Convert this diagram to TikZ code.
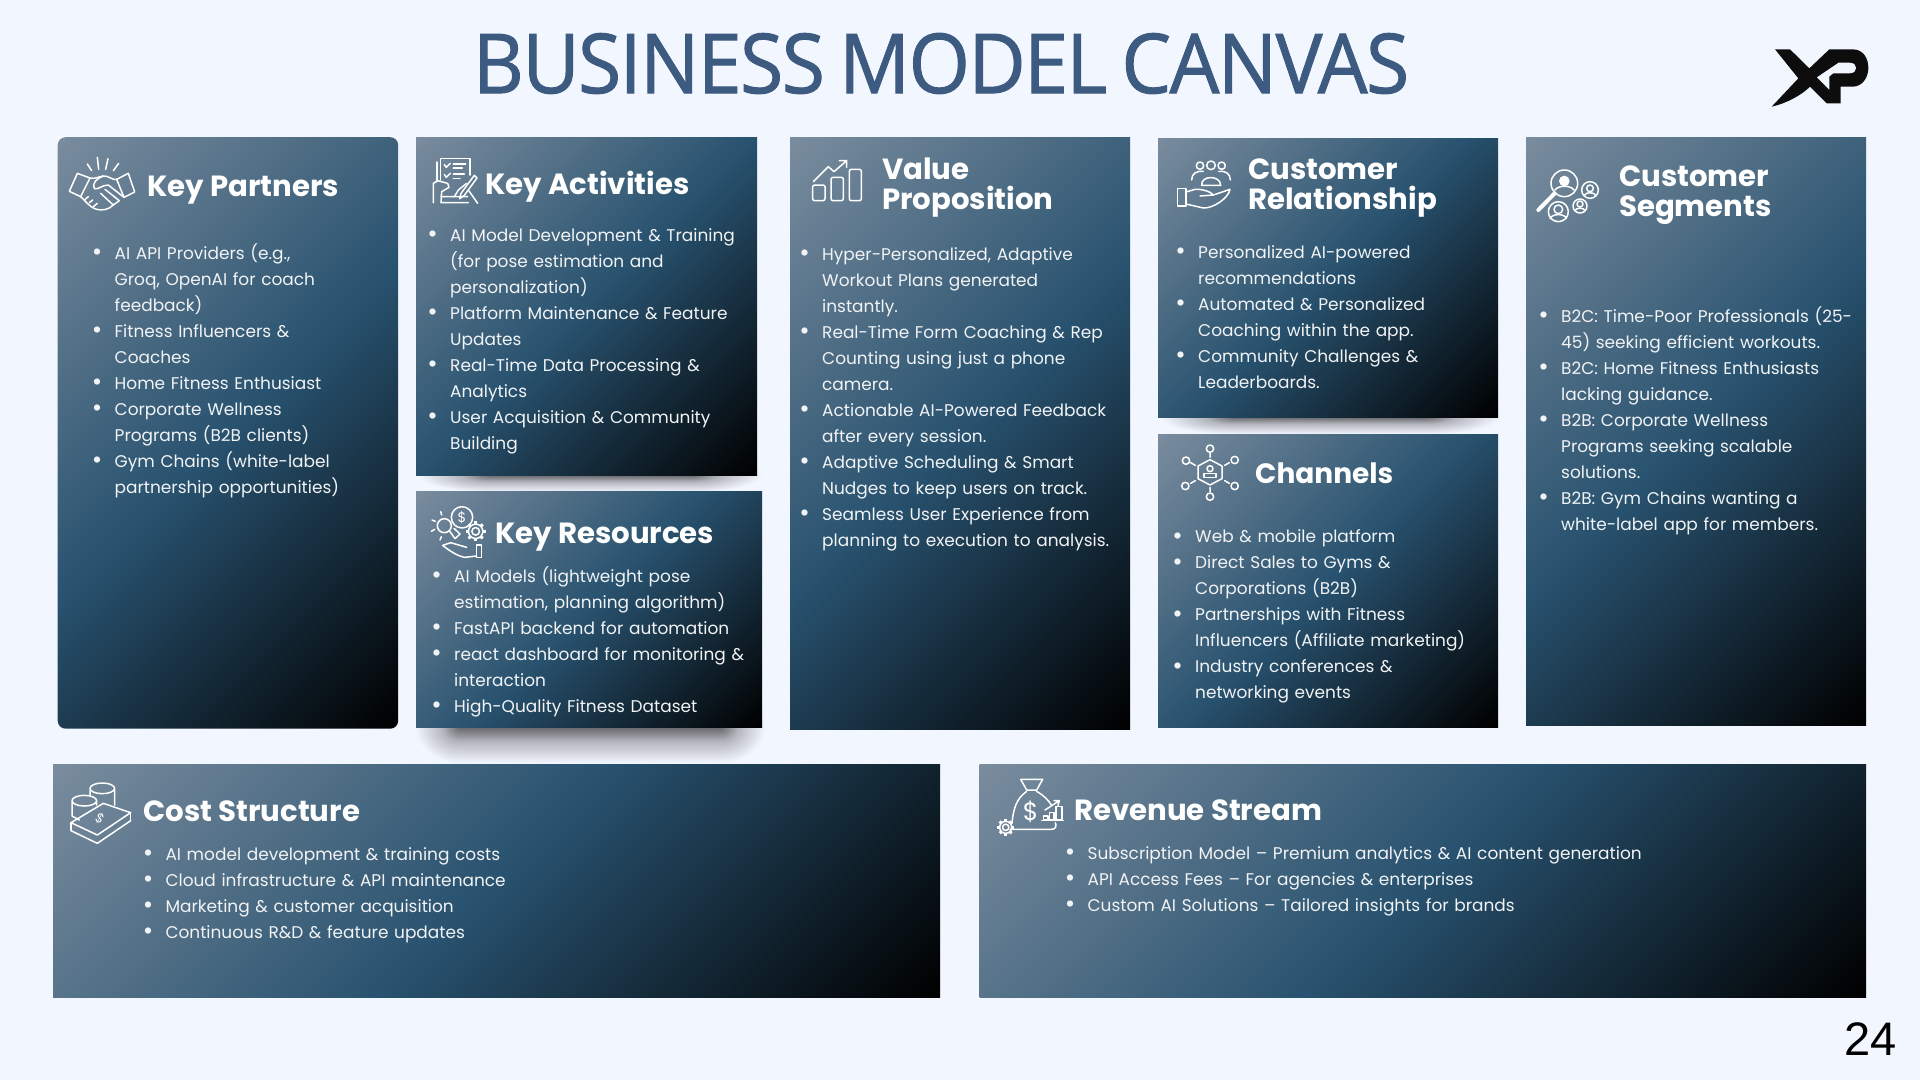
\documentclass[tikz,border=0pt]{standalone}
\usepackage{fontspec}
\usepackage{graphicx}
\setmainfont{Poppins}
\newfontfamily\titlefont[LetterSpace=-2,FakeBold=1.2]{Open Sans}
\newfontfamily\pagefont{Liberation Sans}
\usetikzlibrary{calc}

\definecolor{pagebg}{HTML}{F2F6FF}
\definecolor{titleblue}{HTML}{3D5A80}
\definecolor{cardlight}{HTML}{7A8C9E}
\definecolor{cardmid}{HTML}{28526F}
\definecolor{shadowdark}{HTML}{66666A}
\definecolor{shadowmid}{HTML}{B4B6BE}
\definecolor{bodywhite}{HTML}{F1F3F5}

\pgfdeclareverticalshading{cardshade}{100bp}{color(0bp)=(black); color(14.65bp)=(black); color(50bp)=(cardmid); color(85.35bp)=(cardlight); color(100bp)=(cardlight)}
\pgfdeclareradialshading{shadowcap}{\pgfpoint{0bp}{0bp}}{color(0bp)=(shadowdark); color(10bp)=(shadowmid); color(25bp)=(pagebg); color(50bp)=(pagebg)}
\pgfdeclareverticalshading{shadowband}{100bp}{color(0bp)=(pagebg); color(25bp)=(pagebg); color(55bp)=(shadowmid); color(75bp)=(shadowdark); color(100bp)=(shadowdark)}

\tikzset{
    cardbox/.style={anchor=north west, inner sep=0pt, shading=cardshade, shading angle=45},
    cardhead/.style={anchor=west, inner sep=0pt, white, align=left, font=\fontsize{29.2}{30}\selectfont\bfseries},
    cardbody/.style={anchor=north west, inner sep=0pt, text width=#1, bodywhite, font=\fontsize{16.95}{26}\selectfont},
    cardbody/.default=330pt,
    iconline/.style={white, line width=1.5pt, line join=round, line cap=round},
    iconsign/.style={white, inner sep=0pt},
}

\newenvironment{cardlist}{\begin{list}{\makebox[7pt]{\raisebox{-1.2pt}{\scalebox{1.5}{\textbullet}}}}{\setlength{\leftmargin}{21pt}\setlength{\labelwidth}{7pt}\setlength{\labelsep}{14pt}\setlength{\itemsep}{0pt}\setlength{\parsep}{0pt}\setlength{\topsep}{0pt}\setlength{\partopsep}{0pt}}\raggedright}{\end{list}}
\newcommand{\litem}{\item\strut}
\newcommand{\geardraw}[3]{% centre x, centre y, radius
    \draw[iconline] (#1,#2) circle (#3*0.72);
    \draw[iconline] (#1,#2) circle (#3*0.38);
    \foreach \a in {0,45,...,315}
        \draw[iconline, line width=3pt, line cap=butt] ($(#1,#2)+(\a:#3*0.72)$) -- ($(#1,#2)+(\a:#3)$);
}
\newcommand{\shadowdraw}[5]{% left, right, y, depth, cap width
    \shade[shading=shadowcap] (#1-#5,#3-#4) rectangle (#1+#5,#3+#4);
    \shade[shading=shadowcap] (#2-#5,#3-#4) rectangle (#2+#5,#3+#4);
    \shade[shading=shadowband] (#1,#3) rectangle (#2,#3+#4);
}

\begin{document}
\begin{tikzpicture}[x=1pt, y=-1pt]
    \useasboundingbox (0,0) rectangle (1920,1080);
    \fill[pagebg] (0,0) rectangle (1920,1080);

    \node[titleblue, inner sep=0pt, anchor=center] (title) at (941,63.5)
        {\resizebox{936pt}{60pt}{\titlefont BUSINESS\hspace{0.18em}MODEL\hspace{0.18em}CANVAS}};

    % logo
    \fill[black!95, even odd rule, shift={(1770,40)}, scale=1/3]
        (15,28) -- (60,28) -- (118,85) -- (178,28) -- (248,28)
        .. controls (280,28) and (295,55) .. (295,84)
        .. controls (295,115) and (275,140) .. (248,140)
        -- (212,140) -- (212,190) -- (170,190) -- (120,140)
        .. controls (95,165) and (50,190) .. (5,200) -- (85,115) -- cycle
        (140,112) -- (205,68) -- (240,68)
        .. controls (265,68) and (265,100) .. (240,100)
        -- (190,100) -- (178,110) -- (178,150) -- cycle;

    % shadows
    \shadowdraw{490}{690}{475}{17}{72}
    \shadowdraw{460}{720}{727}{36}{45}
    \shadowdraw{1235}{1425}{417}{17}{75}

    % cards
    \node[cardbox, rounded corners=8pt, minimum width=340.5pt, minimum height=591.5pt] (partners) at (57.5,137) {};
    \node[cardbox, minimum width=341pt, minimum height=338pt] (activities) at (416,137) {};
    \node[cardbox, minimum width=346pt, minimum height=236pt] (resources) at (416,491) {};
    \node[cardbox, minimum width=340pt, minimum height=592pt] (value) at (790,137) {};
    \node[cardbox, minimum width=340pt, minimum height=279pt] (relationship) at (1158,138) {};
    \node[cardbox, minimum width=340pt, minimum height=293pt] (channels) at (1158,434) {};
    \node[cardbox, minimum width=340pt, minimum height=588pt] (segments) at (1526,137) {};
    \node[cardbox, minimum width=887pt, minimum height=232.5pt] (cost) at (53,764.5) {};
    \node[cardbox, minimum width=886.5pt, minimum height=232.5pt] (revenue) at (979.5,764.5) {};

    % headings
    \node[cardhead] (partnershead) at (147,190) {Key Partners};
    \node[cardhead] (activitieshead) at (485,186.5) {Key Activities};
    \node[cardhead] (resourceshead) at (495,537) {Key Resources};
    \node[cardhead] (valuehead) at (882,187.5) {Value\\Proposition};
    \node[cardhead] (relationshiphead) at (1248,188) {Customer\\Relationship};
    \node[cardhead, font=\fontsize{28}{30}\selectfont\bfseries] (channelshead) at (1255,473) {Channels};
    \node[cardhead] (segmentshead) at (1619,195) {Customer\\Segments};
    \node[cardhead] (costhead) at (143,811) {Cost Structure};
    \node[cardhead] (revenuehead) at (1074,810) {Revenue Stream};

    % lists
    \node[cardbody] (partnerslist) at (93.5,233.5) {\begin{cardlist}
        \litem AI API Providers (e.g.,\\Groq, OpenAI for coach\\feedback)
        \litem Fitness Influencers \&\\Coaches
        \litem Home Fitness Enthusiast
        \litem Corporate Wellness\\Programs (B2B clients)
        \litem Gym Chains (white-label\\partnership opportunities)
    \end{cardlist}};
    \node[cardbody] (activitieslist) at (429,215.3) {\begin{cardlist}
        \litem AI Model Development \& Training\\(for pose estimation and\\personalization)
        \litem Platform Maintenance \& Feature\\Updates
        \litem Real-Time Data Processing \&\\Analytics
        \litem User Acquisition \& Community\\Building
    \end{cardlist}};
    \node[cardbody] (resourceslist) at (433,556.5) {\begin{cardlist}
        \litem AI Models (lightweight pose\\estimation, planning algorithm)
        \litem FastAPI backend for automation
        \litem react dashboard for monitoring \&\\interaction
        \litem High-Quality Fitness Dataset
    \end{cardlist}};
    \node[cardbody] (valuelist) at (801,234.5) {\begin{cardlist}
        \litem Hyper-Personalized, Adaptive\\Workout Plans generated\\instantly.
        \litem Real-Time Form Coaching \& Rep\\Counting using just a phone\\camera.
        \litem Actionable AI-Powered Feedback\\after every session.
        \litem Adaptive Scheduling \& Smart\\Nudges to keep users on track.
        \litem Seamless User Experience from\\planning to execution to analysis.
    \end{cardlist}};
    \node[cardbody] (relationshiplist) at (1177,232.3) {\begin{cardlist}
        \litem Personalized AI-powered\\recommendations
        \litem Automated \& Personalized\\Coaching within the app.
        \litem Community Challenges \&\\Leaderboards.
    \end{cardlist}};
    \node[cardbody] (channelslist) at (1174,516.6) {\begin{cardlist}
        \litem Web \& mobile platform
        \litem Direct Sales to Gyms \&\\Corporations (B2B)
        \litem Partnerships with Fitness\\Influencers (Affiliate marketing)
        \litem Industry conferences \&\\networking events
    \end{cardlist}};
    \node[cardbody] (segmentslist) at (1540,296.3) {\begin{cardlist}
        \litem B2C: Time-Poor Professionals (25-\\45) seeking efficient workouts.
        \litem B2C: Home Fitness Enthusiasts\\lacking guidance.
        \litem B2B: Corporate Wellness\\Programs seeking scalable\\solutions.
        \litem B2B: Gym Chains wanting a\\white-label app for members.
    \end{cardlist}};
    \node[cardbody=500pt] (costlist) at (144.3,834.5) {\begin{cardlist}
        \litem AI model development \& training costs
        \litem Cloud infrastructure \& API maintenance
        \litem Marketing \& customer acquisition
        \litem Continuous R\&D \& feature updates
    \end{cardlist}};
    \node[cardbody=700pt] (revenuelist) at (1066.4,833.3) {\begin{cardlist}
        \litem Subscription Model -- Premium analytics \& AI content generation
        \litem API Access Fees -- For agencies \& enterprises
        \litem Custom AI Solutions -- Tailored insights for brands
    \end{cardlist}};

    % handshake
    \begin{scope}[shift={(60,150)}, scale=1/3]
        \draw[iconline] (82,42) -- (95,62) (112,22) -- (116,58) (144,26) -- (137,58) (176,40) -- (160,62);
        \draw[iconline] (52,70) -- (90,84) -- (62,140) -- (28,124) -- cycle;
        \draw[iconline] (170,88) -- (205,70) -- (224,126) -- (192,142) -- cycle;
        \draw[iconline] (90,84) .. controls (105,88) and (115,80) .. (130,78) .. controls (145,76) and (158,92) .. (170,88);
        \draw[iconline] (130,78) .. controls (110,85) and (95,100) .. (103,116) .. controls (115,120) and (125,105) .. (145,105) -- (192,142);
        \draw[iconline] (135,118) -- (178,152) (122,130) -- (160,165) (178,152) -- (160,165);
        \draw[iconline] (62,140) .. controls (75,150) and (85,170) .. (110,178) .. controls (125,182) and (145,180) .. (160,165);
        \draw[iconline] (75,148) -- (85,140) (88,158) -- (98,150) (100,170) -- (112,160);
    \end{scope}

    % checklist
    \begin{scope}[shift={(425,150)}, scale=1/3]
        \draw[iconline] (46,90) -- (46,25) -- (135,25) -- (135,75);
        \draw[iconline] (36,95) -- (36,36);
        \draw[iconline] (58,44) -- (64,52) -- (76,40) (58,74) -- (64,82) -- (76,70);
        \draw[iconline] (85,42) -- (122,42) (85,54) -- (112,54) (85,72) -- (118,72) (85,85) -- (105,85);
        \draw[iconline] (25,158) -- (25,100) -- (38,92) -- (68,100) -- (72,112) -- (50,125) -- (48,158);
        \draw[iconline] (148,76) -- (108,130) -- (104,146) -- (118,136) -- (156,84) -- cycle;
        \draw[iconline] (125,100) -- (100,120) -- (88,140);
        \draw[iconline] (48,140) -- (128,140) (48,158) -- (130,158) (130,120) -- (158,160);
    \end{scope}

    % bulb, coin, gear, hand
    \begin{scope}[shift={(400,460)}, scale=1/3]
        \draw[iconline] (133,197) circle (21);
        \draw[iconline] (186,172) circle (32);
        \node[iconsign, font=\fontsize{14}{14}\selectfont] (resourcescoin) at (186,172) {\$};
        \geardraw{227}{214}{30}
        \draw[iconline] (96,180) -- (106,184) (122,155) -- (125,165) (94,214) -- (104,208) (120,240) -- (124,230);
        \draw[iconline] (148,212) -- (165,236) -- (180,222) -- (162,205);
        \draw[iconline] (128,256) -- (152,248) -- (200,262) (128,256) .. controls (145,270) and (175,290) .. (195,292) -- (230,288);
        \draw[iconline] (230,255) -- (245,255) -- (245,292) -- (230,292) -- cycle;
    \end{scope}

    % bars and arrow
    \begin{scope}[shift={(790,140)}, scale=1/3]
        \draw[iconline, rounded corners=2pt] (68,135) rectangle (105,182);
        \draw[iconline, rounded corners=2pt] (123,112) rectangle (160,182);
        \draw[iconline, rounded corners=2pt] (178,88) rectangle (214,182);
        \draw[iconline] (70,125) -- (115,80) -- (132,95) -- (170,62) (148,62) -- (170,62) -- (170,82);
    \end{scope}

    % people above hand
    \begin{scope}[shift={(1150,130)}, scale=1/3]
        \draw[iconline] (150,107) circle (11) (183,106) circle (13) (215,107) circle (11);
        \draw[iconline] (155,166) .. controls (152,135) and (212,135) .. (212,166) -- cycle;
        \draw[iconline] (125,150) .. controls (125,130) and (140,122) .. (160,124);
        \draw[iconline] (241,150) .. controls (241,130) and (226,122) .. (206,124);
        \draw[iconline] (82,175) rectangle (108,228);
        \draw[iconline] (108,186) -- (135,178) .. controls (155,176) and (185,186) .. (190,195) -- (150,198);
        \draw[iconline] (190,195) -- (240,178) .. controls (235,205) and (190,235) .. (160,234) -- (108,222);
    \end{scope}

    % magnifier and people
    \begin{scope}[shift={(1150,130)}, scale=1/3]
        \draw[iconline] (1243,160) circle (40);
        \fill[white] (1243,153) circle (16);
        \draw[iconline] (1215,180) .. controls (1225,165) and (1262,165) .. (1272,180);
        \draw[iconline, line width=4pt] (1214,190) -- (1165,240);
        \draw[iconline] (1320,180) circle (25) (1320,175) circle (10);
        \draw[iconline] (1302,197) .. controls (1308,185) and (1332,185) .. (1338,197);
        \draw[iconline] (1290,228) circle (21) (1290,222) circle (9);
        \draw[iconline] (1274,242) .. controls (1280,232) and (1300,232) .. (1306,242);
        \draw[iconline] (1225,245) circle (30) (1225,238) circle (13);
        \draw[iconline] (1200,265) .. controls (1208,250) and (1242,250) .. (1250,265);
    \end{scope}

    % hexagon network
    \begin{scope}[shift={(1150,130)}, scale=1/3]
        \draw[iconline] (180,989) -- (216,1008) -- (216,1046) -- (180,1065) -- (144,1046) -- (144,1008) -- cycle;
        \draw[iconline] (180,1016) circle (9);
        \draw[iconline] (162,1042) -- (162,1030) -- (198,1030) -- (198,1042) -- cycle;
        \draw[iconline] (180,956) circle (11) (108,992) circle (11) (254,990) circle (11)
            (106,1068) circle (11) (254,1068) circle (11) (180,1100) circle (11);
        \draw[iconline] (180,970) -- (180,982) (122,998) -- (136,1006) (238,998) -- (224,1006)
            (122,1060) -- (136,1052) (238,1060) -- (224,1052) (180,1072) -- (180,1086);
    \end{scope}

    % coins and note
    \begin{scope}[shift={(40,760)}, scale=1/3]
        \draw[iconline] (187,85) ellipse (37 and 16) (150,85) -- (150,105) (224,85) -- (224,135);
        \draw[iconline] (133,122) ellipse (37 and 16) (96,122) -- (96,168) -- (118,180) (170,122) -- (170,135);
        \draw[iconline] (93,188) -- (190,130) -- (272,158) -- (172,225) -- cycle;
        \draw[iconline] (93,212) -- (172,250) -- (272,182);
        \draw[iconline] (93,188) -- (93,212) (272,158) -- (272,182);
        \node[iconsign, rotate=-30, font=\fontsize{13}{13}\selectfont] (costnote) at (180,176) {\$};
    \end{scope}

    % money bag
    \begin{scope}[shift={(980,760)}, scale=1/3]
        \draw[iconline] (140,90) -- (122,58) -- (188,58) -- (170,90) -- cycle;
        \draw[iconline] (140,94) .. controls (110,115) and (100,145) .. (96,190);
        \draw[iconline] (170,94) .. controls (190,105) and (205,120) .. (214,135);
        \draw[iconline] (90,208) -- (215,208) .. controls (228,208) and (230,196) .. (226,188);
        \node[iconsign, font=\fontsize{25}{25}\selectfont] (revenuebag) at (152,155) {\$};
        \draw[iconline] (190,168) rectangle (204,180) (208,158) rectangle (222,180) (228,140) rectangle (246,180);
        \draw[iconline] (185,182) -- (250,182);
        \draw[iconline] (195,150) -- (238,122) (222,122) -- (238,122) -- (234,136);
        \geardraw{77}{202}{25}
    \end{scope}

    \node[inner sep=0pt, anchor=center, font=\pagefont\fontsize{47}{47}\selectfont] (pagenumber) at (1870.5,1039) {24};
\end{tikzpicture}
\end{document}
